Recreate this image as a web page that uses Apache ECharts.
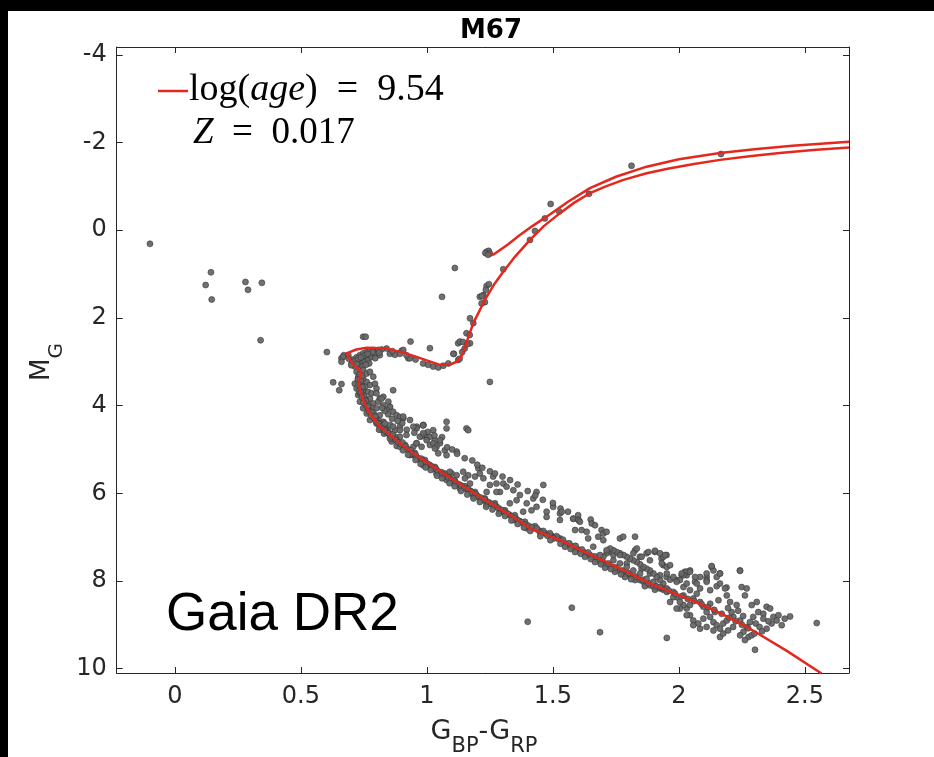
<!DOCTYPE html>
<html>
<head>
<meta charset="utf-8">
<script src="https://cdn.jsdelivr.net/npm/echarts@6/dist/echarts.min.js"></script>
<style>html,body{margin:0;padding:0;background:#000;}#c{width:934px;height:757px;}</style>
</head>
<body>
<div id="c"></div>
<script>
// ---- tick labels ----
const xTicks = [0, 0.5, 1, 1.5, 2, 2.5];
const yTicks = [-4, -2, 0, 2, 4, 6, 8, 10];

// ---- isochrone (log age = 9.54, Z = 0.017) ----
const isoMainColor = [2.566,2.43,2.282,2.18,2.083,1.951,1.885,1.792,1.687,1.60,1.528,1.409,1.342,1.21,1.078,0.946,0.88,0.813,0.77,0.745,0.728,0.735,0.741,0.72,0.70,0.681,0.72,0.761,0.84,0.90,0.959,1.052,1.09,1.118,1.14,1.151,1.184,1.23,1.265,1.303,1.35,1.409,1.465,1.528,1.585,1.647,1.71,1.78,1.872,1.96,2.06,2.163,2.28,2.40,2.533,2.675];
const isoMainMag   = [10.11,9.6,9.09,8.78,8.52,8.21,8.06,7.79,7.50,7.27,7.07,6.80,6.54,6.08,5.59,5.09,4.80,4.48,4.15,3.85,3.50,3.30,3.23,3.12,3.0,2.81,2.72,2.68,2.70,2.78,2.89,3.07,3.07,3.0,2.85,2.66,2.12,1.59,1.25,0.945,0.60,0.22,-0.10,-0.39,-0.63,-0.845,-1.0,-1.15,-1.30,-1.41,-1.51,-1.605,-1.69,-1.76,-1.83,-1.89];
const isoBranchColor = [1.262,1.255,1.263,1.32,1.369,1.42,1.475,1.56,1.647,1.75,1.872,2.0,2.163,2.30,2.45,2.675];
const isoBranchMag   = [0.58,0.53,0.56,0.33,0.11,-0.10,-0.31,-0.65,-0.96,-1.22,-1.45,-1.62,-1.76,-1.85,-1.93,-2.02];

// ---- Gaia DR2 stars [G_BP-G_RP, M_G] ----
const outlierStars = [[-0.099,0.31],[0.143,0.96],[0.122,1.25],[0.146,1.58],[0.28,1.18],[0.29,1.36],[0.345,1.20],[0.34,2.51],[0.603,2.78],[0.628,3.47],[0.661,3.51],[0.652,3.65],[0.661,2.92],[0.67,2.85],[0.747,2.43],[0.757,2.43],[0.935,2.54],[1.012,2.69],[1.124,2.58],[1.107,2.82],[0.866,3.65],[1.078,4.37],[1.25,3.46],[1.06,1.52],[1.111,0.86],[1.40,8.93],[1.575,8.61],[1.687,9.17],[1.952,9.30],[2.547,8.96],[2.441,8.81],[2.302,9.57],[1.157,4.52]];

const giantStars = [[1.237,0.49],[1.245,0.47],[1.232,0.52],[1.250,0.53],[1.243,0.56],[1.303,0.89],[1.237,1.27],[1.224,1.48],[1.210,1.52],[1.218,1.50],[1.234,1.36],[1.246,1.23],[1.230,1.64],[1.217,1.67],[1.184,2.12],[1.171,2.01],[1.157,2.35],[1.171,2.58],[1.131,2.54],[1.143,2.55],[1.170,2.39],[1.409,0.22],[1.429,0.02],[1.468,-0.27],[1.491,-0.60],[1.525,-0.43],[1.643,-0.83],[1.812,-1.47],[2.167,-1.74]];

const subgiantStars = [[0.853,2.82],[0.900,2.75],[0.926,2.92],[0.985,3.04],[1.025,3.11],[1.045,3.13],[1.085,3.04],[1.105,2.82],[1.124,2.96],[1.130,2.93],[0.933,2.92],[0.919,2.85],[0.893,2.82],[0.873,2.84],[0.906,2.73],[0.840,2.70],[0.820,2.72],[0.863,2.76],[1.065,3.09],[1.140,2.78],[1.150,2.70],[1.160,2.60],[0.955,2.95],[1.005,3.07]];

const turnoffStars = [[0.701,3.04],[0.708,2.95],[0.721,2.90],[0.734,2.85],[0.747,2.81],[0.761,2.77],[0.774,2.75],[0.787,2.73],[0.800,2.77],[0.774,2.85],[0.761,2.89],[0.747,2.95],[0.731,3.00],[0.741,3.04],[0.754,3.00],[0.767,2.96],[0.780,2.89],[0.794,2.83],[0.714,3.11],[0.727,3.08],[0.807,2.73],[0.813,2.85],[0.771,3.04],[0.745,3.11],[0.668,2.89],[0.688,2.85],[0.661,3.00],[0.715,2.98],[0.728,2.93],[0.752,2.86],[0.785,2.78],[0.765,2.82],[0.738,2.90],[0.722,3.05],[0.758,3.07],[0.795,2.92],[0.810,2.79],[0.690,2.93],[0.700,3.08]];

const upperMsStars = [[0.721,3.23],[0.734,3.27],[0.747,3.19],[0.761,3.27],[0.774,3.23],[0.787,3.34],[0.727,3.38],[0.714,3.50],[0.741,3.50],[0.761,3.46],[0.774,3.53],[0.794,3.50],[0.721,3.61],[0.747,3.65],[0.767,3.69],[0.727,3.76],[0.747,3.84],[0.774,3.84],[0.800,3.61],[0.813,3.84],[0.827,3.80],[0.734,3.91],[0.761,3.99],[0.787,3.95],[0.747,4.06],[0.774,4.10],[0.800,4.06],[0.827,3.99],[0.847,3.91],[0.853,4.03],[0.866,4.14],[0.761,4.18],[0.787,4.26],[0.813,4.22],[0.880,4.22],[0.893,4.26],[0.906,4.29],[0.933,4.33],[0.774,4.33],[0.800,4.41],[0.827,4.37],[0.853,4.44],[0.813,4.52],[0.840,4.56],[0.873,4.56],[0.893,4.48],[0.960,4.48],[0.986,4.44],[0.866,4.71],[0.893,4.71],[0.986,4.67],[1.000,4.75],[0.747,3.38],[0.754,3.57],[0.780,3.72],[0.734,3.72],[0.800,3.72],[0.807,3.91],
[0.775,4.12],[0.790,4.20],[0.800,4.30],[0.810,4.35],[0.820,4.42],[0.830,4.50],[0.845,4.58],[0.855,4.65],[0.870,4.72],[0.780,4.05],[0.765,3.95],[0.755,3.85],[0.745,3.75],[0.740,3.62],[0.735,3.55],[0.730,3.45],[0.728,3.35],[0.790,4.28],[0.815,4.46],[0.840,4.62],[0.862,4.77],[0.758,4.00],[0.768,4.08],
[0.820,3.84],[0.906,4.25],[0.853,4.03],[0.840,4.10],[0.959,4.52],[0.985,4.45],[1.025,4.56],[0.999,4.67],[1.012,4.71],[1.032,4.79],[1.052,4.86],[0.959,4.86],[0.979,4.94],[0.946,4.94],
[0.733,3.29],[0.742,3.33],[0.726,3.41],[0.738,3.44],[0.729,3.52],[0.744,3.58],[0.732,3.66],[0.738,3.70],[0.751,3.78],[0.742,3.81],[0.757,3.89],[0.748,3.93],[0.766,4.02],[0.771,4.14],[0.783,4.16],[0.779,4.23],[0.795,4.25],[0.798,4.36],[0.806,4.40],[0.812,4.43],[0.823,4.47],[0.819,4.55],[0.835,4.53],
[0.950,4.62],[0.980,4.70],[1.003,4.60],[1.030,4.68],[1.060,4.72],[0.920,4.55],[0.902,4.40],[0.884,4.35],[0.862,4.30],[0.846,4.20],[0.832,4.12],[0.822,4.05],
[0.860,4.82],[0.880,4.92],[0.830,4.64],[0.810,4.55]];

const middleMsStars = [[0.827,4.52],[0.840,4.60],[0.853,4.67],[0.866,4.75],[0.880,4.79],[0.893,4.86],[0.906,4.94],[0.919,4.98],[0.933,5.05],[0.946,5.13],[0.959,5.17],[0.972,5.23],[0.985,5.28],[0.999,5.32],[1.012,5.36],[1.025,5.43],[1.038,5.47],[1.052,5.53],[1.065,5.59],[1.078,5.62],[1.091,5.66],[1.104,5.74],[1.118,5.78],[1.131,5.81],[1.144,5.85],[1.157,5.91],[1.171,5.94],[1.184,6.01],[1.197,6.04],[1.210,6.12],[1.224,6.16],[1.237,6.20],[1.250,6.23],[1.263,6.27],[1.276,6.31],[1.290,6.37],[1.303,6.40],[1.316,6.46],[1.329,6.50],[1.343,6.55],[1.356,6.60],[1.369,6.64],[1.382,6.69],[1.396,6.73],[1.409,6.78],[1.422,6.80],
[0.853,4.75],[0.893,4.94],[0.933,5.13],[0.985,5.36],[1.038,5.55],[1.078,5.70],[1.131,5.89],[1.184,6.07],[1.237,6.27],[1.290,6.42],[1.343,6.61],[1.396,6.80],
[0.833,4.57],[0.873,4.71],[0.913,4.90],[0.952,5.08],[0.992,5.24],[1.032,5.40],[1.071,5.55],[1.111,5.72],[1.151,5.84],[1.191,5.97],[1.230,6.12],[1.270,6.23],[1.310,6.39],[1.349,6.50],[1.389,6.65],[1.429,6.75],
[0.833,4.41],[0.866,4.48],[0.893,4.56],[0.919,4.67],[0.946,4.48],[0.959,4.86],[0.972,4.71],[0.985,4.63],[0.999,4.79],[1.012,4.90],[1.025,4.86],[1.038,4.94],[1.045,5.09],[1.052,4.79],[1.071,5.02],[1.078,5.13],[1.098,5.55],[1.118,5.05],[1.144,5.51],[1.171,5.78],[1.191,5.62],[1.204,5.43],[1.210,5.55],[1.224,5.66],[1.250,5.81],[1.263,5.62],[1.276,5.78],[1.290,5.97],[1.303,5.78],[1.316,5.85],[1.343,5.93],[1.356,6.16],[1.369,6.04],[1.396,6.23],[1.422,6.12],[1.435,5.97],[1.462,5.81],[1.435,6.31],[1.475,6.42],[1.501,6.31],[1.528,6.46],[1.475,6.54],[1.581,6.58],[1.601,6.60],[1.415,6.39],[1.382,6.42],[1.329,6.23],[1.276,5.97],[1.237,5.97],[1.164,5.59],[1.151,5.66],[1.078,4.52],[1.164,4.56],[0.985,4.45],[1.032,4.98],[1.091,5.51],[1.118,5.59],
[0.848,4.63],[0.858,4.70],[0.864,4.66],[0.877,4.78],[0.885,4.83],[0.898,4.88],[0.903,4.84],[0.916,4.93],[0.925,5.00],[0.937,5.02],[0.941,5.09],[0.955,5.12],[0.966,5.20],[0.978,5.21],[0.982,5.25],[0.994,5.30],[1.006,5.34],[1.017,5.38],[1.021,5.41],[1.035,5.44],[1.045,5.50],[1.058,5.52],[1.062,5.57],[1.072,5.61],[1.085,5.64],[1.097,5.69],[1.109,5.71],[1.114,5.76],[1.126,5.80],[1.137,5.83],[1.149,5.88],[1.163,5.90],[1.176,5.96],[1.180,5.99],[1.193,6.02],[1.204,6.08],[1.216,6.10],[1.229,6.14],[1.244,6.20],[1.256,6.24],[1.268,6.28],[1.282,6.33],[1.296,6.38],[1.308,6.43],[1.322,6.47],[1.336,6.52],[1.352,6.57],[1.362,6.62],[1.376,6.66],[1.391,6.71],[1.402,6.74],[1.416,6.77],
[1.080,4.95],[1.100,5.00],[1.120,5.10],[1.150,5.20],[1.180,5.25],[1.200,5.35],[1.220,5.42],[1.250,5.50],[1.270,5.55],[1.300,5.62],[1.330,5.70],[1.360,5.80],[1.400,5.95],[1.430,6.05],[1.460,6.15],[1.500,6.22],[1.530,6.35],[1.560,6.42],[1.600,6.50],[1.650,6.60],
[0.905,5.02],[0.925,5.12],[0.955,5.24],[0.975,5.33],[0.995,5.41],[1.015,5.47],[1.040,5.60],[1.060,5.66],[1.090,5.77],[1.110,5.84],[1.135,5.95],[1.160,6.03],[1.185,6.12],[1.210,6.20],[1.235,6.31],[1.260,6.37],[1.285,6.47],[1.310,6.52],[1.335,6.62],[1.360,6.70],[1.385,6.78],[1.410,6.86]];

const lowerMsStars = [[1.528,7.03],[1.541,7.11],[1.554,7.15],[1.568,7.19],[1.581,7.22],[1.594,7.26],[1.607,7.30],[1.621,7.34],[1.634,7.38],[1.647,7.41],[1.660,7.45],[1.673,7.51],[1.687,7.54],[1.700,7.59],[1.713,7.62],[1.726,7.66],[1.740,7.70],[1.753,7.74],[1.766,7.77],[1.779,7.82],[1.793,7.85],[1.806,7.87],[1.819,7.91],[1.832,7.95],[1.845,7.98],[1.859,8.02],[1.872,8.06],[1.885,8.10],[1.898,8.12],[1.912,8.15],[1.925,8.17],[1.938,8.20],
[1.548,7.22],[1.588,7.34],[1.627,7.45],[1.667,7.57],[1.707,7.70],[1.746,7.79],[1.786,7.91],[1.826,7.98],[1.865,8.12],[1.905,8.20],
[1.535,6.42],[1.528,6.61],[1.581,6.58],[1.601,6.61],[1.607,6.65],[1.614,6.84],[1.654,6.69],[1.667,6.73],[1.693,6.84],[1.700,6.92],[1.713,6.88],[1.680,6.99],[1.700,7.07],[1.640,7.03],[1.634,6.88],[1.588,6.84],[1.766,7.03],[1.779,6.99],[1.826,6.99],[1.826,7.30],[1.845,7.45],[1.872,7.37],[1.879,7.34],[1.905,7.34],[1.931,7.49],[1.951,7.41],[1.938,7.64],[1.852,7.72],[1.885,7.83],[1.925,7.87],[1.951,7.91],[1.965,7.97],[1.991,7.98],[2.011,7.87],[2.024,7.79],[2.044,7.76],[2.031,7.87],[2.064,8.02],[2.110,7.91],[2.110,7.98],[2.130,7.68],[2.163,7.83],[2.150,8.12],[2.189,8.15],[2.242,7.76],[2.249,8.14],[1.793,7.60],[1.726,7.34],[1.740,7.41],[1.660,7.22],
[1.441,6.84],[1.455,6.87],[1.468,6.91],[1.482,6.94],[1.495,6.97],[1.509,7.00],[1.521,7.04],[1.436,6.80],[1.462,6.86],[1.488,6.91],[1.515,6.98],[1.450,6.90],[1.478,6.97],[1.503,7.03],[1.540,7.06],[1.565,7.14],[1.590,7.20],[1.615,7.28],[1.640,7.35],[1.668,7.44],[1.695,7.53],[1.720,7.60],[1.748,7.69],[1.775,7.76],[1.800,7.82],[1.828,7.90],[1.855,7.97],[1.880,8.05],[1.908,8.11],[1.935,8.16],
[1.450,6.98],[1.490,7.07],[1.530,7.15],[1.570,7.27],[1.610,7.38],[1.650,7.50],[1.690,7.62],[1.730,7.73],[1.770,7.85],[1.810,7.96]];

const faintMsStars = [[2.269,8.17],[2.262,8.33],[2.289,8.55],[2.309,8.48],[2.315,8.71],[2.335,8.75],[2.348,8.59],[2.362,8.63],[2.375,8.82],[2.388,8.90],[2.408,9.01],[2.368,8.97],[2.348,9.09],[2.335,8.86],[2.295,8.82],[2.282,8.94],[2.269,9.05],[2.256,9.16],[2.276,9.28],[2.289,9.24],[2.243,9.24],[2.243,8.90],[2.216,8.82],[2.229,8.55],[2.203,8.48],[2.190,8.33],[2.183,8.17],[2.163,8.06],[2.150,7.91],[2.124,8.21],[2.110,8.02],[2.084,8.17],[2.071,8.29],[2.057,8.40],[2.084,8.48],[2.097,8.59],[2.110,8.71],[2.124,8.82],[2.137,8.94],[2.150,9.01],[2.163,9.09],[2.176,8.97],[2.190,8.90],[2.209,8.71],[2.110,9.05],[2.084,9.09],[2.077,8.97],[2.057,8.90],[2.044,8.78],[2.031,8.63],[2.018,8.55],[2.004,8.48],[1.991,8.37],[1.978,8.25],[1.952,8.17],[1.938,8.06],[1.925,7.98],[1.912,7.91],[1.899,7.83],[1.885,7.76],[1.872,7.72],[1.859,7.68],[1.846,7.62],[1.833,7.57],[1.819,7.53],[1.806,7.49],[1.793,7.45],[1.780,7.41],[1.766,7.37],[1.753,7.34],[1.740,7.30],[1.727,7.26],[1.713,7.37],[1.700,7.45],[1.740,7.53],[1.766,7.60],[1.793,7.68],[1.819,7.76],[1.846,7.83],[1.872,7.95],[1.899,8.02],[1.925,8.14],[1.952,8.25],[1.978,8.37],[2.004,8.63],[2.031,8.78],[2.057,9.01],[2.097,8.86],[2.137,9.13],[2.163,9.28],[2.176,9.20],[2.262,9.35],[2.143,8.71],[2.157,8.44],[2.124,8.52],[2.044,8.55],[2.018,8.33],[1.991,8.63],[1.965,8.48],[2.018,8.14],[2.004,7.98],[2.031,8.06],[2.044,8.21],[2.071,8.06],[2.084,7.91],[2.110,7.83],[2.137,7.76],[2.064,7.91],[2.031,7.79],[2.018,7.87],[2.011,7.83],[1.952,7.68],[1.938,7.45],[1.925,7.37],[1.945,7.41],[1.833,7.26],[1.905,7.31],[1.852,7.45],[1.932,7.60],[1.952,7.83],[1.965,7.64],[1.885,7.53],[1.991,8.02],[1.978,7.91],[2.044,7.79],[1.819,7.37],[1.766,7.41],[1.713,7.30],[1.687,7.41],[2.243,7.77],[2.130,7.66],[2.163,7.83],
[1.960,8.22],[1.985,8.29],[2.010,8.35],[2.035,8.41],[2.060,8.46],[2.090,8.53],[2.115,8.60],[2.140,8.66],[2.170,8.75],[2.200,8.84],[2.225,8.92],[2.250,9.00],[2.275,9.08],[2.195,8.62],[2.235,8.68],[2.255,8.80],[2.305,8.97],[2.320,9.05],[2.355,8.92],[2.395,8.78],[2.420,8.86],[2.330,9.15],[2.300,9.20],[2.215,9.05],[2.195,9.13]];

// ---- build chart ----
const pair = (a, b) => a.map((v, i) => [v, b[i]]);
const ink = '#262626';
const red = '#e4281e';
const starStyle = {color: '#686868', borderColor: '#333333', borderWidth: 0.6, opacity: 0.95};
const starSeries = (d) => ({type: 'scatter', data: d, symbol: 'circle', symbolSize: 6, itemStyle: starStyle, z: 3, silent: true});

const xMin = -0.231, xMax = 2.675, yMin = -4.18, yMax = 10.1;
const axisCommon = {
  type: 'value',
  axisLine: {show: true, onZero: false, lineStyle: {color: ink, width: 1}},
  splitLine: {show: false}
};

const chart = echarts.init(document.getElementById('c'), null, {renderer: 'canvas'});
chart.setOption({
  animation: false,
  backgroundColor: '#000',
  grid: {left: 116.7, right: 85, top: 47, bottom: 84, containLabel: false},
  xAxis: [
    Object.assign({}, axisCommon, {position: 'bottom', min: xMin, max: xMax,
      axisTick: {show: true, inside: true, length: 6, customValues: xTicks, lineStyle: {color: ink}},
      axisLabel: {customValues: xTicks, fontSize: 24, fontFamily: 'DejaVu Sans', color: ink, margin: 12}}),
    Object.assign({}, axisCommon, {position: 'top', min: xMin, max: xMax,
      axisTick: {show: true, inside: true, length: 6, customValues: xTicks, lineStyle: {color: ink}},
      axisLabel: {show: false}})
  ],
  yAxis: [
    Object.assign({}, axisCommon, {position: 'left', inverse: true, min: yMin, max: yMax,
      axisTick: {show: true, inside: true, length: 6, customValues: yTicks, lineStyle: {color: ink}},
      axisLabel: {customValues: yTicks, fontSize: 24, fontFamily: 'DejaVu Sans', color: ink, margin: 10}}),
    Object.assign({}, axisCommon, {position: 'right', inverse: true, min: yMin, max: yMax,
      axisTick: {show: true, inside: true, length: 6, customValues: yTicks, lineStyle: {color: ink}},
      axisLabel: {show: false}})
  ],
  graphic: [
    {type: 'rect', z: -100, silent: true, shape: {x: 8, y: 11, width: 926, height: 746}, style: {fill: '#ffffff'}},
    {type: 'text', x: 491, y: 31, silent: true, style: {text: 'M67', font: 'bold 26px "DejaVu Sans"', fill: '#000', align: 'center', verticalAlign: 'middle'}},
    {type: 'line', silent: true, shape: {x1: 158, y1: 91, x2: 188, y2: 91}, style: {stroke: red, lineWidth: 2.5}},
    {type: 'text', x: 189, y: 90, silent: true, style: {
      text: '{n|log(}{i|age}{n|)  =  9.54}', align: 'left', verticalAlign: 'middle',
      rich: {n: {fontFamily: 'Liberation Serif', fontSize: 38, fill: '#000'}, i: {fontFamily: 'Liberation Serif', fontSize: 38, fontStyle: 'italic', fill: '#000'}}}},
    {type: 'text', x: 193, y: 133, silent: true, style: {
      text: '{i|Z}{n|  =  0.017}', align: 'left', verticalAlign: 'middle',
      rich: {n: {fontFamily: 'Liberation Serif', fontSize: 37, fill: '#000'}, i: {fontFamily: 'Liberation Serif', fontSize: 37, fontStyle: 'italic', fill: '#000'}}}},
    {type: 'text', x: 166, y: 615, silent: true, style: {text: 'Gaia DR2', font: '53px "Liberation Sans"', fill: '#000', align: 'left', verticalAlign: 'middle'}},
    {type: 'text', x: 484, y: 732, silent: true, style: {
      text: '{m|G}{s|BP}{m|-G}{s|RP}', align: 'center', verticalAlign: 'middle',
      rich: {m: {fontFamily: 'DejaVu Sans', fontSize: 27, fill: ink}, s: {fontFamily: 'DejaVu Sans', fontSize: 21, fill: ink, padding: [29, 0, 0, 0]}}}},
    {type: 'text', x: 42, y: 362, rotation: Math.PI / 2, silent: true, style: {
      text: '{m|M}{s|G}', align: 'center', verticalAlign: 'middle',
      rich: {m: {fontFamily: 'DejaVu Sans', fontSize: 26, fill: ink}, s: {fontFamily: 'DejaVu Sans', fontSize: 20, fill: ink, padding: [30, 0, 0, 0]}}}}
  ],
  series: [
    starSeries(outlierStars),
    starSeries(giantStars),
    starSeries(subgiantStars),
    starSeries(turnoffStars),
    starSeries(upperMsStars),
    starSeries(middleMsStars),
    starSeries(lowerMsStars),
    starSeries(faintMsStars),
    {type: 'line', data: pair(isoMainColor, isoMainMag), showSymbol: false, smooth: false, z: 5, silent: true,
      lineStyle: {color: red, width: 2.5}},
    {type: 'line', data: pair(isoBranchColor, isoBranchMag), showSymbol: false, smooth: false, z: 5, silent: true,
      lineStyle: {color: red, width: 2.5}}
  ]
});
</script>
</body>
</html>
